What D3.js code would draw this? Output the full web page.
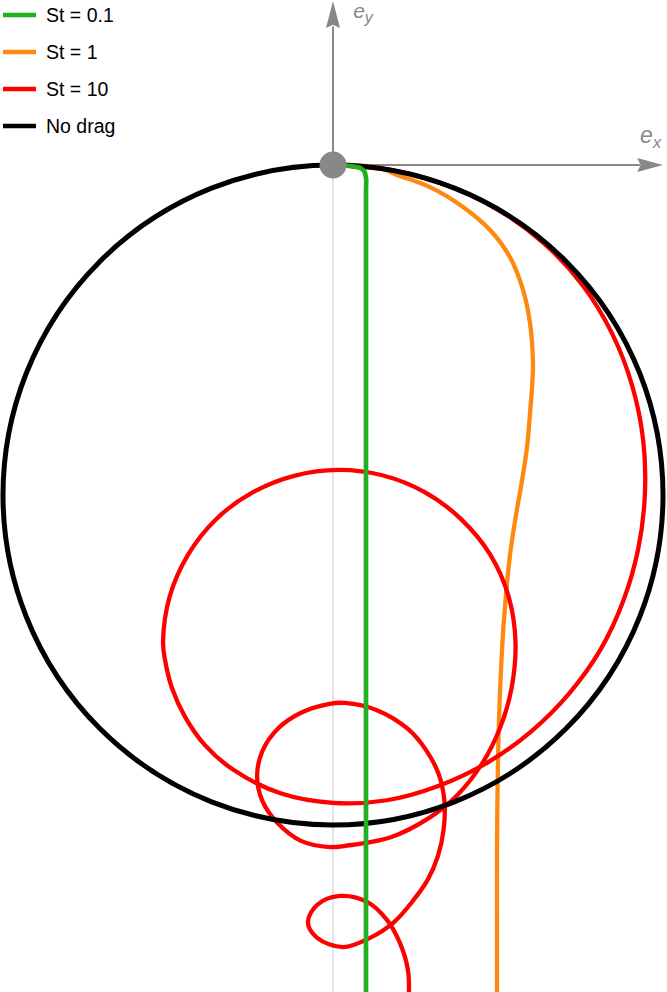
<!DOCTYPE html>
<html>
<head>
<meta charset="utf-8">
<script src="https://cdn.jsdelivr.net/npm/d3@7"></script>
<style>
  body { margin: 0; background: #fff; }
  svg { display: block; font-family: "Liberation Sans", Arial, sans-serif; }
</style>
</head>
<body>
<div id="chart"></div>
<script>
// trajectories, in units of the no-drag circle radius (origin = release point)
const stNames = ['St = 0.1', 'St = 1', 'St = 10', 'No drag'];
const stColors = ['#22b022', '#ff8811', '#ff0000', '#000000'];

const green01 = [
  [0, 0], [0.052, -0.003], [0.082, -0.009], [0.094, -0.018], [0.1, -0.039],
  [0.1, -0.08], [0.1, -0.5], [0.1, -1.5], [0.1, -2.515]
];

const orange1 = [
  [0, 0], [0.142, -0.009], [0.194, -0.030], [0.294, -0.067], [0.394, -0.127],
  [0.476, -0.197], [0.536, -0.279], [0.576, -0.379], [0.597, -0.479], [0.606, -0.6],
  [0.604, -0.66], [0.597, -0.752], [0.588, -0.855], [0.573, -0.955], [0.552, -1.076],
  [0.536, -1.185], [0.518, -1.379], [0.506, -1.6], [0.5, -1.803], [0.497, -2.076],
  [0.497, -2.3], [0.497, -2.515]
];

const red10 = [
  // first turn, just inside the no-drag circle
  [0, 0], [0.174, -0.015], [0.342, -0.060], [0.499, -0.135], [0.640, -0.238],
  [0.757, -0.365], [0.846, -0.511], [0.907, -0.670], [0.940, -0.834], [0.945, -1.0],
  [0.925, -1.163], [0.880, -1.320], [0.811, -1.468], [0.716, -1.601], [0.601, -1.716],
  [0.468, -1.811], [0.321, -1.881], [0.163, -1.925], [0, -1.933], [-0.159, -1.904],
  [-0.303, -1.832], [-0.388, -1.758], [-0.448, -1.673], [-0.488, -1.585], [-0.509, -1.5],
  [-0.515, -1.445],
  // second turn
  [-0.495, -1.308], [-0.440, -1.182], [-0.355, -1.074], [-0.245, -0.993], [-0.118, -0.942],
  [0.017, -0.924], [0.152, -0.941], [0.279, -0.992], [0.388, -1.073], [0.476, -1.180],
  [0.532, -1.307], [0.553, -1.445], [0.541, -1.586], [0.506, -1.706], [0.453, -1.812],
  [0.378, -1.908], [0.289, -1.980], [0.175, -2.037], [0.038, -2.063],
  // third turn
  [-0.009, -2.067], [-0.097, -2.048], [-0.168, -1.994], [-0.214, -1.927], [-0.230, -1.852],
  [-0.214, -1.776], [-0.168, -1.709], [-0.097, -1.660], [-0.010, -1.633], [0.036, -1.630],
  [0.133, -1.652], [0.227, -1.709], [0.282, -1.773], [0.321, -1.848], [0.338, -1.932],
  [0.335, -2.015], [0.318, -2.094], [0.288, -2.164], [0.242, -2.230], [0.185, -2.294],
  [0.112, -2.342],
  // last small loop
  [0.030, -2.370], [-0.048, -2.342], [-0.076, -2.294], [-0.048, -2.242], [0.021, -2.215],
  [0.103, -2.233], [0.164, -2.288], [0.203, -2.358], [0.227, -2.439], [0.230, -2.515]
];

// no drag: circle through the origin
const noDragCenter = [0, -1];
const noDragRadius = 1;

const width = 667;
const height = 992;

const x = d3.scaleLinear().domain([-1, 1]).range([3, 663]);
const y = d3.scaleLinear().domain([0.5, -2.5]).range([0, 990]);

const svg = d3.select('#chart')
  .append('svg')
  .attr('width', width)
  .attr('height', height);

// thin vertical guide below origin
svg.append('line')
  .attr('x1', x(0)).attr('x2', x(0))
  .attr('y1', y(0)).attr('y2', y(-2.52))
  .attr('stroke', '#c8c8c8')
  .attr('stroke-width', 1);

// unit vectors e_x, e_y
svg.append('line')
  .attr('x1', x(0)).attr('y1', y(0))
  .attr('x2', x(0.93)).attr('y2', y(0))
  .attr('stroke', '#888').attr('stroke-width', 2);
svg.append('path')
  .attr('d', `M${x(1)},${y(0)} L${x(0.922)},${y(0) - 7} L${x(0.932)},${y(0)} L${x(0.922)},${y(0) + 7} Z`)
  .attr('fill', '#888');

svg.append('line')
  .attr('x1', x(0)).attr('y1', y(0))
  .attr('x2', x(0)).attr('y2', y(0.42))
  .attr('stroke', '#888').attr('stroke-width', 2);
svg.append('path')
  .attr('d', `M${x(0)},${y(0.497)} L${x(0) - 7},${y(0.415)} L${x(0)},${y(0.425)} L${x(0) + 7},${y(0.415)} Z`)
  .attr('fill', '#888');

const exLabel = svg.append('text')
  .attr('x', x(0.93)).attr('y', y(0.067))
  .attr('fill', '#888')
  .style('font-size', '23px')
  .style('font-style', 'italic');
exLabel.append('tspan').text('e');
exLabel.append('tspan').attr('dy', 5).style('font-size', '17px').text('x');

const eyLabel = svg.append('text')
  .attr('x', x(0.061)).attr('y', y(0.444))
  .attr('fill', '#888')
  .style('font-size', '21px')
  .style('font-style', 'italic');
eyLabel.append('tspan').text('e');
eyLabel.append('tspan').attr('dy', 5).style('font-size', '16px').text('y');

// trajectories
const line = d3.line()
  .x(d => x(d[0]))
  .y(d => y(d[1]))
  .curve(d3.curveCatmullRom.alpha(0.5));

svg.append('path')
  .datum(orange1)
  .attr('d', line)
  .attr('fill', 'none')
  .attr('stroke', stColors[1])
  .attr('stroke-width', 4.3);

svg.append('path')
  .datum(red10)
  .attr('d', line)
  .attr('fill', 'none')
  .attr('stroke', stColors[2])
  .attr('stroke-width', 4.3)
  .attr('stroke-linejoin', 'round');

svg.append('circle')
  .attr('cx', x(noDragCenter[0]))
  .attr('cy', y(noDragCenter[1]))
  .attr('r', x(noDragRadius) - x(0))
  .attr('fill', 'none')
  .attr('stroke', stColors[3])
  .attr('stroke-width', 5);

svg.append('path')
  .datum(green01)
  .attr('d', line)
  .attr('fill', 'none')
  .attr('stroke', stColors[0])
  .attr('stroke-width', 4.7);

// release point
svg.append('circle')
  .attr('cx', x(0)).attr('cy', y(0))
  .attr('r', 13.5)
  .attr('fill', '#888');

// legend
const legend = svg.append('g');
stNames.forEach((name, i) => {
  const yy = 15 + i * 37;
  legend.append('line')
    .attr('x1', 3).attr('x2', 36)
    .attr('y1', yy).attr('y2', yy)
    .attr('stroke', stColors[i])
    .attr('stroke-width', 4.5);
  legend.append('text')
    .attr('x', 46).attr('y', yy + 7)
    .style('font-size', '19.5px')
    .attr('fill', '#000')
    .text(name);
});
</script>
</body>
</html>
